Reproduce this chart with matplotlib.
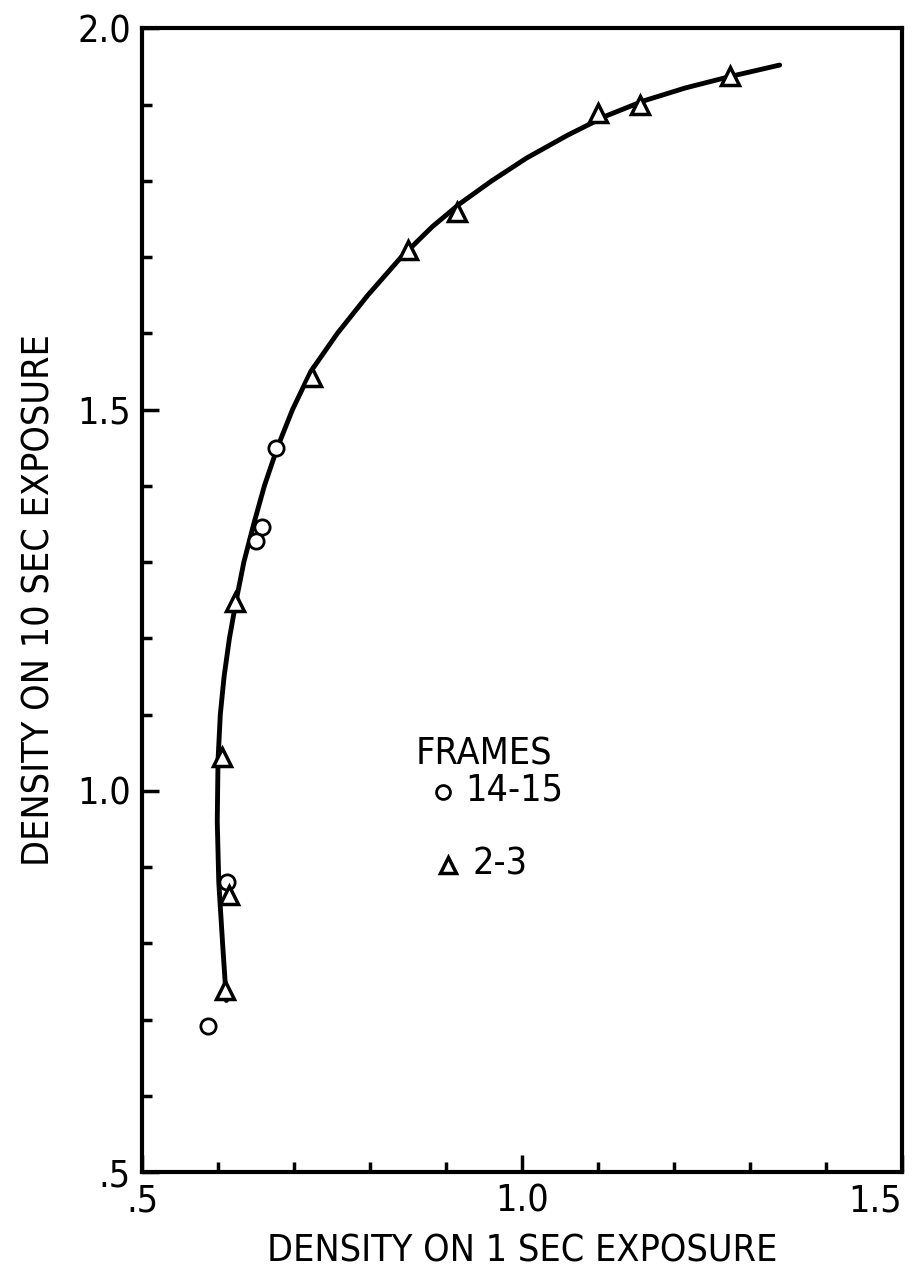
#density on 10 sec vs 1 sec exposure, frames 14-15 and 2-3
import numpy as np
import matplotlib.pyplot as plt
from matplotlib.ticker import MultipleLocator

plt.rcParams['font.family'] = ['DejaVu Sans']
plt.rcParams['font.stretch'] = 'condensed'

#frames 14-15 (circles)
x_circ = [0.676, 0.658, 0.650, 0.612, 0.587]
y_circ = [1.450, 1.346, 1.328, 0.881, 0.692]

#frames 2-3 (triangles)
x_tri = [1.274, 1.155, 1.100, 0.914, 0.850, 0.724, 0.622, 0.605, 0.614, 0.609]
y_tri = [1.937, 1.900, 1.889, 1.759, 1.710, 1.543, 1.248, 1.045, 0.864, 0.739]

#hand drawn curve
x_curve = [0.611, 0.606, 0.601, 0.599, 0.600, 0.603, 0.608, 0.615, 0.624, 0.634,
           0.647, 0.661, 0.678, 0.698, 0.722, 0.757, 0.797, 0.841, 0.882, 0.918,
           0.960, 1.006, 1.060, 1.110, 1.160, 1.215, 1.274, 1.339]
y_curve = [0.725, 0.800, 0.880, 0.960, 1.040, 1.100, 1.150, 1.200, 1.250, 1.300,
           1.350, 1.400, 1.450, 1.500, 1.550, 1.600, 1.650, 1.700, 1.740, 1.770,
           1.800, 1.830, 1.860, 1.885, 1.905, 1.922, 1.937, 1.952]

fig = plt.figure(figsize=(9.24, 12.82), dpi=100)
ax = fig.add_axes([0.1537, 0.0858, 0.8225, 0.892])

ax.plot(x_curve, y_curve, color='black', lw=3.5, solid_capstyle='round',
        solid_joinstyle='round', zorder=2)
ax.plot(x_circ, y_circ, 'o', ms=11, mfc='white', mec='black', mew=2, zorder=3)
ax.plot(x_tri, y_tri, '^', ms=13, mfc='white', mec='black', mew=2.5, zorder=3)

#legend is just text in the original
ax.text(0.86, 1.048, "FRAMES", fontsize=27, ha='left', va='center')
ax.plot([0.896], [0.998], 'o', ms=10, mfc='white', mec='black', mew=2)
ax.text(0.925, 1.0, "14-15", fontsize=27, ha='left', va='center')
ax.plot([0.903], [0.903], '^', ms=11, mfc='white', mec='black', mew=2.5)
ax.text(0.935, 0.903, "2-3", fontsize=27, ha='left', va='center')

ax.set_xlim(0.5, 1.5)
ax.set_ylim(0.5, 2.0)

ax.xaxis.set_minor_locator(MultipleLocator(0.1))
ax.yaxis.set_minor_locator(MultipleLocator(0.1))
ax.set_xticks([0.5, 1.0, 1.5])
ax.set_xticklabels([".5", "1.0", "1.5"])
ax.set_yticks([0.5, 1.0, 1.5, 2.0])
ax.set_yticklabels([".5", "1.0", "1.5", "2.0"])

ax.tick_params(which='both', direction='in', top=False, right=False, width=2.5)
ax.tick_params(which='major', length=12, labelsize=27, pad=8)
ax.tick_params(which='minor', length=7)
for s in ax.spines.values():
    s.set_linewidth(3)

#last x label sits against the edge, pull it in a little
ax.get_xticklabels()[-1].set_horizontalalignment('right')
ax.get_xticklabels()[-1].set_x(1.52)

ax.set_xlabel("DENSITY ON 1 SEC EXPOSURE", fontsize=27, labelpad=10)
ax.set_ylabel("DENSITY ON 10 SEC EXPOSURE", fontsize=27, labelpad=14)

fig.savefig("out.png", dpi=100)
